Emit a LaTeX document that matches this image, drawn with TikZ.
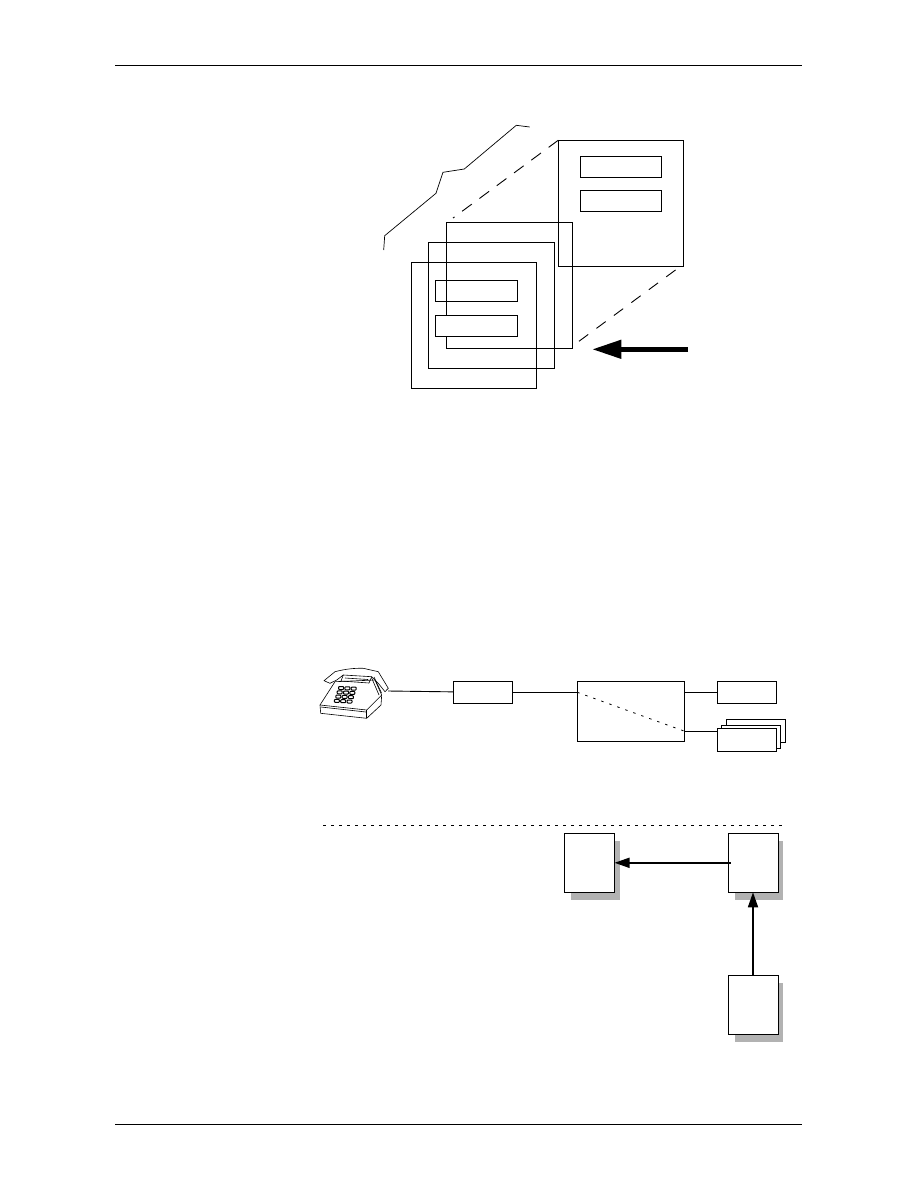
\documentclass[tikz,border=0pt]{standalone}
\usepackage{tikz}
\usetikzlibrary{arrows.meta}
\tikzset{
  sqbox/.style={draw=black, line width=0.9pt, inner sep=0pt, outer sep=0pt},
  pane/.style={sqbox, minimum width=125.5pt, minimum height=126pt},
  slot/.style={sqbox, minimum width=81.5pt, minimum height=21pt},
  unit/.style={sqbox, fill=white, minimum width=59.5pt, minimum height=22.5pt},
  tile/.style={sqbox, fill=white, minimum width=50pt, minimum height=59pt},
  shadow/.style={fill=black!30, draw=none, minimum width=48.5pt, minimum height=58.5pt, inner sep=0pt, outer sep=0pt},
  link/.style={line width=0.9pt},
  flow/.style={line width=1.7pt, -{Triangle[length=15pt,width=10pt]}},
  phoneline/.style={line width=0.6pt, line join=round},
}
\begin{document}
\begin{tikzpicture}[x=1pt, y=-1pt]
  \useasboundingbox (0,0) rectangle (918,1188);
  % page rules
  \coordinate (ruleTL) at (115,65);
  \coordinate (ruleTR) at (802,65);
  \coordinate (ruleBL) at (115,1124);
  \coordinate (ruleBR) at (802,1124);
  \draw[link] (ruleTL) -- (ruleTR);
  \draw[link] (ruleBL) -- (ruleBR);

  % stack of panes
  \node[pane] (paneD) at (621,203.25) {};
  \node[slot] (slotD) at (621,166.5) {};
  \node[slot, minimum height=21.5pt] (slotE) at (621,200.75) {};
  \node[pane] (paneA) at (509.5,285.25) {};
  \node[pane] (paneB) at (491.5,305.5) {};
  \node[pane] (paneC) at (474,325.5) {};
  \node[slot, minimum width=82pt] (slotA) at (476.5,291) {};
  \node[slot, fill=white, minimum width=82pt, minimum height=21.5pt] (slotB) at (476.5,325.75) {};
  % broken outline
  \draw[link, line width=0.7pt] (383.7,250) -- (384.7,235.7) -- (436,193.3) -- (443,172.3)
    -- (464.3,169) -- (516.3,125.3) -- (529.7,127);
  % projection lines
  \coordinate (dashA) at (453,218);
  \coordinate (dashB) at (578,342);
  \coordinate (dashC) at (675.5,270);
  \draw[link, dash pattern=on 12pt off 9.5pt] (paneD.north west) -- (dashA);
  \draw[link, dash pattern=on 11.5pt off 10.2pt] (dashC) -- (dashB);
  % big arrow
  \coordinate (bigTail) at (688,349.3);
  \coordinate (bigTip) at (592.3,349.3);
  \draw[line width=4.5pt, -{Triangle[length=29pt,width=18pt]}] (bigTail) -- (bigTip);

  % telephone
  \begin{scope}[phoneline]
    \draw[fill=white] (335,681.7) -- (320,705) -- (320.7,713.3) -- (366.7,718.3) -- (381,705)
      -- (381.7,695) -- (375,680) -- cycle;
    \draw (320,705) -- (366.7,710) -- (381.7,695);
    \draw (366.7,710) -- (366.7,718.3);
    \draw (321,707) -- (366,712);
    \draw[fill=white] (324,680.7) -- (335,671.7) .. controls (345,669) and (355,668) .. (363.3,668.3)
      -- (378.3,671.7) -- (388.3,688.3) -- (385,691.7) -- (378.3,683.3) -- (371.7,676.7)
      -- (343.3,675) -- (336.7,680) -- (330,683.3) -- cycle;
    \draw (343.3,675) -- (341,681) -- (369,683) -- (371.7,676.7);
    \draw (345,678) -- (368,679.5);
    \draw (371.7,678) -- (379,695);
    \draw (374,677) -- (381.5,693);
    \foreach \col in {0,1,2} {
      \foreach \row in {0,1,2,3} {
        \draw[rounded corners=0.8pt, line width=1pt] ({338.6+\col*6.3-\row*1.4},{686.5+\row*4.3+\col*0.3}) rectangle +(5,3);
      }
    }
  \end{scope}

  % call path
  \coordinate (phoneOut) at (388,691);
  \coordinate (queueIn) at (717.3,731.3);
  \node[unit] (line1) at (482.75,692.25) {};
  \node[sqbox, minimum width=107.5pt, minimum height=60pt] (switch) at (631,711.3) {};
  \node[unit] (dest) at (747,692.25) {};
  \node[unit] (queueC) at (756,730.8) {};
  \node[unit] (queueB) at (751,736.8) {};
  \node[unit] (queueA) at (747,739.8) {};
  \draw[link] (phoneOut) -- (line1);
  \draw[link] (line1.east) -- (switch.west |- line1.east);
  \draw[link] (switch.east |- dest.west) -- (dest.west);
  \draw[link] (switch.east |- queueIn) -- (queueIn);
  \draw[line width=0.8pt, dash pattern=on 2.5pt off 6pt] (switch.west |- dest.west) -- (switch.east |- queueIn);

  % lower divider
  \coordinate (sepL) at (323,825);
  \coordinate (sepR) at (783,825);
  \draw[line width=0.8pt, dash pattern=on 3pt off 5pt] (sepL) -- (sepR);

  % shaded tiles
  \node[shadow] at (595.5,870.4) {};
  \node[tile] (tileL) at (589.5,862.8) {};
  \node[shadow] at (759,870.4) {};
  \node[tile] (tileR) at (753,862.8) {};
  \node[shadow] at (759,1012.4) {};
  \node[tile] (tileB) at (753,1004.8) {};
  \coordinate (flowStart) at (730.7,862.8);
  \draw[flow] (flowStart) -- (tileL.east);
  \draw[flow] (tileB.north) -- (tileR.south);
\end{tikzpicture}
\end{document}
